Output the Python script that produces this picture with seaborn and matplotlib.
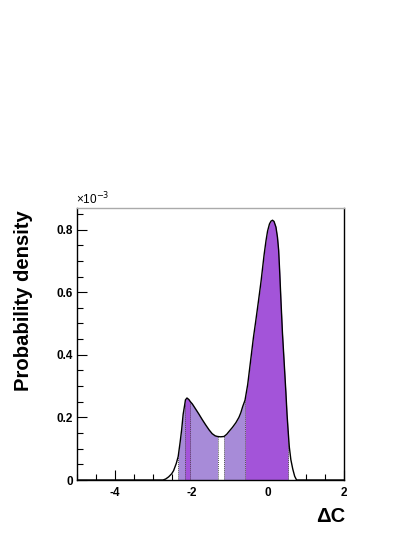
import numpy as np
import pandas as pd
import matplotlib
matplotlib.use("Agg")
import matplotlib.pyplot as plt
import seaborn as sns

# Data (density in units of 1e-3)
delta_c = [-5.0, -2.75, -2.68, -2.60, -2.52, -2.47, -2.40, -2.35, -2.30, -2.26, -2.22, -2.18,
           -2.16, -2.12, -2.07, -2.03, -1.98, -1.90, -1.81, -1.72, -1.63, -1.54, -1.46, -1.38,
           -1.32, -1.24, -1.15, -1.08, -1.02, -0.93, -0.84, -0.76, -0.71, -0.66, -0.60, -0.53,
           -0.45, -0.38, -0.32, -0.25, -0.18, -0.10, -0.05, -0.01, 0.04, 0.08, 0.12, 0.16,
           0.21, 0.25, 0.28, 0.31, 0.34, 0.38, 0.43, 0.47, 0.50, 0.53, 0.56, 0.60, 0.65,
           0.70, 0.75, 2.0]
density = [0.0, 0.0, 0.003, 0.010, 0.020, 0.030, 0.053, 0.075, 0.120, 0.160, 0.210, 0.240,
           0.256, 0.262, 0.257, 0.250, 0.243, 0.228, 0.211, 0.193, 0.176, 0.160, 0.148, 0.141,
           0.139, 0.138, 0.139, 0.146, 0.155, 0.168, 0.183, 0.200, 0.215, 0.235, 0.255, 0.305,
           0.385, 0.455, 0.507, 0.570, 0.635, 0.720, 0.765, 0.795, 0.818, 0.827, 0.830, 0.826,
           0.808, 0.775, 0.735, 0.660, 0.575, 0.470, 0.365, 0.280, 0.210, 0.155, 0.105, 0.065,
           0.035, 0.012, 0.0, 0.0]

# Shaded intervals
light_intervals = [(-2.35, -1.32), (-1.15, -0.60)]
dark_intervals = [(-2.18, -2.03), (-0.60, 0.53)]
boundaries = [-2.35, -2.18, -2.03, -1.32, -1.15, -0.60, 0.53]

x_ticks = [-4, -2, 0, 2]
y_ticks = [0, 0.2, 0.4, 0.6, 0.8]
y_tick_labels = ["0", "0.2", "0.4", "0.6", "0.8"]

light_color = "#a78bd8"
dark_color = "#a354d9"

sns.set_theme(style="white")
plt.rcParams['font.family'] = ['Liberation Sans', 'DejaVu Sans']
plt.rcParams['text.color'] = 'black'
plt.rcParams['axes.labelcolor'] = 'black'
plt.rcParams['xtick.color'] = 'black'
plt.rcParams['ytick.color'] = 'black'

df = pd.DataFrame({"dc": delta_c, "pdf": density})
x = df["dc"].to_numpy()
y = df["pdf"].to_numpy()

fig = plt.figure(figsize=(4.13, 5.35), dpi=100)
ax = fig.add_axes([0.1864, 0.1028, 0.8337 - 0.1864, 0.6118 - 0.1028])

for a, b in light_intervals:
    m = (x >= a - 1e-9) & (x <= b + 1e-9)
    ax.fill_between(x, 0, y, where=m, color=light_color, linewidth=0)
for a, b in dark_intervals:
    m = (x >= a - 1e-9) & (x <= b + 1e-9)
    ax.fill_between(x, 0, y, where=m, color=dark_color, linewidth=0)

for bnd in boundaries:
    h = y[np.argmin(np.abs(x - bnd))]
    ax.plot([bnd, bnd], [0, h], color="#555555", linestyle=(0, (1, 1)), linewidth=0.7)

sns.lineplot(data=df, x="dc", y="pdf", ax=ax, color="black", linewidth=1.0,
             sort=False, estimator=None)

ax.set_xlim(-5, 2)
ax.set_ylim(0, 0.87)
ax.set_xticks(x_ticks)
ax.set_xticklabels([str(t) for t in x_ticks], fontweight="bold", fontsize=8.5, color="black")
ax.set_yticks(y_ticks)
ax.set_yticklabels(y_tick_labels, fontweight="bold", fontsize=8.5, color="black")
ax.set_xticks(np.arange(-5, 2.01, 0.5), minor=True)
ax.set_yticks(np.arange(0, 0.86, 0.05), minor=True)
ax.tick_params(axis="both", which="major", direction="in", length=7, width=0.8,
               color="black", labelcolor="black", bottom=True, left=True, top=False, right=False)
ax.tick_params(axis="both", which="minor", direction="in", length=4, width=0.8,
               color="black", bottom=True, left=True, top=False, right=False)
ax.tick_params(axis="x", which="major", pad=5)
ax.tick_params(axis="y", which="major", pad=3)

for side in ["left", "bottom", "right"]:
    ax.spines[side].set_color("black")
    ax.spines[side].set_linewidth(1.0)
ax.spines["top"].set_color("#aaaaaa")
ax.spines["top"].set_linewidth(1.0)
ax.grid(False)
ax.set_facecolor("white")

ax.set_xlabel("")
ax.set_ylabel("")
fig.text(24 / 413, 1 - 301 / 535, "Probability density", rotation=90, ha="center", va="center",
         fontsize=14.6, fontweight="bold", color="black")
fig.text(345 / 413, 1 - 522 / 535, "ΔC", ha="right", va="baseline",
         fontsize=14.5, fontweight="bold", color="black")
fig.text(76 / 413, 1 - 207 / 535, "×10$^{-3}$", ha="left", va="bottom", fontsize=8.5,
         color="black")

fig.savefig("out.png", dpi=100)
